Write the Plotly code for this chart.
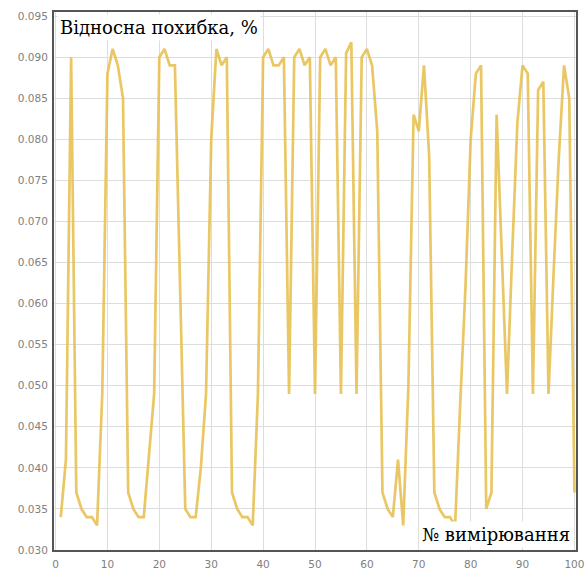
import plotly.graph_objects as go

measurement_no = list(range(1, 101))
relative_error = [
    0.034, 0.041, 0.090, 0.037, 0.035, 0.034, 0.034, 0.033, 0.049, 0.088,
    0.091, 0.089, 0.085, 0.037, 0.035, 0.034, 0.034, 0.042, 0.049, 0.090,
    0.091, 0.089, 0.089, 0.062, 0.035, 0.034, 0.034, 0.040, 0.049, 0.080,
    0.091, 0.089, 0.090, 0.037, 0.035, 0.034, 0.034, 0.033, 0.049, 0.090,
    0.091, 0.089, 0.089, 0.090, 0.049, 0.090, 0.091, 0.089, 0.090, 0.049,
    0.090, 0.091, 0.089, 0.090, 0.049, 0.0905, 0.0918, 0.049, 0.090, 0.091,
    0.089, 0.081, 0.037, 0.035, 0.034, 0.041, 0.033, 0.050, 0.083, 0.081,
    0.089, 0.078, 0.037, 0.035, 0.034, 0.034, 0.033, 0.048, 0.062, 0.080,
    0.088, 0.089, 0.035, 0.037, 0.083, 0.066, 0.049, 0.066, 0.082, 0.089,
    0.088, 0.049, 0.086, 0.087, 0.049, 0.064, 0.078, 0.089, 0.085, 0.037,
]
x_ticks = [0, 10, 20, 30, 40, 50, 60, 70, 80, 90, 100]
y_ticks = [0.030, 0.035, 0.040, 0.045, 0.050, 0.055, 0.060, 0.065,
           0.070, 0.075, 0.080, 0.085, 0.090, 0.095]
y_title = "Відносна похибка, %"
x_title = "№ вимірювання"

fig = go.Figure()
fig.add_trace(go.Scatter(
    x=measurement_no, y=relative_error, mode="lines",
    line=dict(color="rgb(232,192,80)", width=2.7),
    opacity=0.88, hoverinfo="skip", showlegend=False,
))

tick_font = dict(family="DejaVu Sans", size=10.5, color="#808080")
serif = "DejaVu Serif"
fig.update_layout(
    width=593, height=579,
    margin=dict(l=54, r=9, t=12, b=22),
    paper_bgcolor="white", plot_bgcolor="white",
    xaxis=dict(
        range=[-0.3, 100.3], tickvals=x_ticks, ticktext=[str(v) for v in x_ticks],
        showgrid=True, gridcolor="#dddddd", gridwidth=1, zeroline=False,
        showline=True, mirror=True, linecolor="#555555", linewidth=2,
        ticks="outside", ticklen=3, tickcolor="rgba(0,0,0,0)",
        tickfont=tick_font,
    ),
    yaxis=dict(
        range=[0.030, 0.0955], tickvals=y_ticks,
        ticktext=[f"{v:.3f}" for v in y_ticks],
        showgrid=True, gridcolor="#dddddd", gridwidth=1, zeroline=False,
        showline=True, mirror=True, linecolor="#555555", linewidth=2,
        ticks="outside", ticklen=2, tickcolor="rgba(0,0,0,0)",
        tickfont=tick_font,
    ),
    annotations=[
        dict(text=y_title, xref="paper", yref="paper", x=0.006, y=0.996,
             xanchor="left", yanchor="top", showarrow=False,
             font=dict(family=serif, size=18, color="black"),
             bgcolor="white", borderpad=2),
        dict(text=x_title, xref="paper", yref="paper", x=0.994, y=0.004,
             xanchor="right", yanchor="bottom", showarrow=False,
             font=dict(family=serif, size=18, color="black"),
             bgcolor="white", borderpad=2),
    ],
)
fig.write_html(
    "out.html",
    config={"displayModeBar": False},
    post_script="document.body.style.margin='0px';document.body.style.overflow='hidden';",
)
